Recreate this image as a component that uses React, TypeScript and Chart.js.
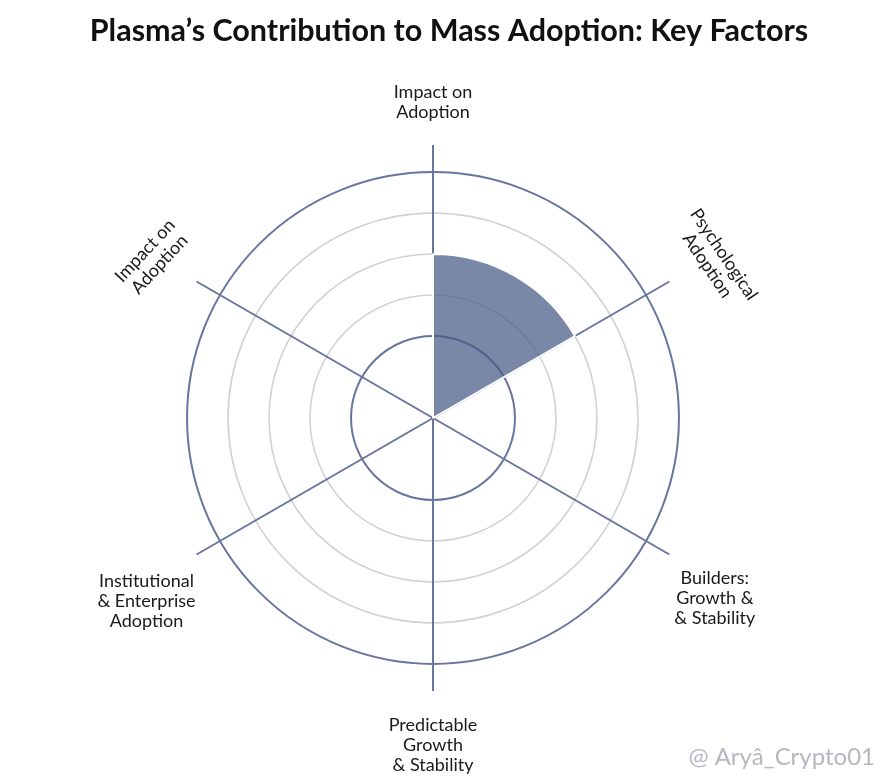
import React, { useEffect, useRef } from "react";
import { Chart, registerables } from "chart.js";

Chart.register(...registerables);

// ---------- data ----------
const TITLE = "Plasma’s Contribution to Mass Adoption: Key Factors";
const WATERMARK = "@ Aryâ_Crypto01";
const categories: string[][] = [
  ["Impact on", "Adoption"],
  ["Psychological", "Adoption"],
  ["Builders:", "Growth &", "& Stability"],
  ["Predictable", "Growth", "& Stability"],
  ["Institutional", "& Enterprise", "Adoption"],
  ["Impact on", "Adoption"],
];
const values = [4, 0, 0, 0, 0, 0];
const tickValues = [2, 3, 4, 5, 6];
const scaleMax = 6.66;

// ---------- styles ----------
const DARK = "#68769E";
const GREY = "#D2D2D4";
const FILL = "rgba(70, 90, 134, 0.72)";
const LABEL_FONT = "18px Lato";
const LABEL_LINE = 20;
// label placement: distance from centre, small nudges, rotation (deg)
const LABEL_LAYOUT = [
  { d: 316, dx: 0, dy: 0, rot: 0 },
  { d: 324, dx: 2, dy: 4, rot: 56 },
  { d: 330, dx: -4, dy: 15, rot: 0 },
  { d: 327, dx: 0, dy: 0, rot: 0 },
  { d: 332, dx: 1, dy: 17, rot: 0 },
  { d: 323, dx: -1, dy: 1, rot: -47 },
];

const labelsPlugin = {
  id: "customLabels",
  afterDraw(chart: any) {
    const ctx = chart.ctx;
    const scale = chart.scales.r;
    ctx.save();
    // title
    ctx.fillStyle = "#111111";
    ctx.font = "bold 30.5px Lato";
    ctx.textAlign = "center";
    ctx.textBaseline = "alphabetic";
    ctx.fillText(TITLE, 449, 41);
    // point labels
    ctx.font = LABEL_FONT;
    ctx.fillStyle = "#1a1a1a";
    ctx.textBaseline = "middle";
    categories.forEach((lines, i) => {
      const lay = LABEL_LAYOUT[i];
      const p = scale.getPointPosition(i, lay.d);
      ctx.save();
      ctx.translate(p.x + lay.dx, p.y + lay.dy);
      ctx.rotate((lay.rot * Math.PI) / 180);
      const n = lines.length;
      lines.forEach((t, k) => {
        ctx.fillText(t, 0, (k - (n - 1) / 2) * LABEL_LINE);
      });
      ctx.restore();
    });
    // watermark
    ctx.font = "24px Lato";
    ctx.fillStyle = "#b4b8c2";
    ctx.textAlign = "right";
    ctx.textBaseline = "alphabetic";
    ctx.fillText(WATERMARK, 875, 765);
    ctx.restore();
  },
};

export default function App() {
  const ref = useRef<HTMLCanvasElement | null>(null);
  useEffect(() => {
    if (!ref.current) return;
    const chart = new Chart(ref.current, {
      type: "polarArea",
      data: {
        labels: categories.map((l) => l.join(" ")),
        datasets: [
          {
            data: values,
            backgroundColor: FILL,
            borderColor: "#ffffff",
            borderWidth: (c: any) => (c.raw > 0 ? 2 : 0),
          },
        ],
      },
      options: {
        responsive: false,
        animation: false,
        layout: { padding: { left: 160, right: 181, top: 145, bottom: 92 } },
        plugins: {
          legend: { display: false },
          title: { display: false },
          tooltip: { enabled: false },
        },
        scales: {
          r: {
            min: 0,
            max: scaleMax,
            startAngle: 0,
            afterBuildTicks: (s: any) => {
              s.ticks = [{ value: 0 }, ...tickValues.map((v) => ({ value: v }))];
            },
            ticks: { display: false },
            grid: {
              circular: true,
              color: (c: any) => {
                const v = c.tick ? c.tick.value : null;
                return v === tickValues[0] || v === tickValues[tickValues.length - 1] ? DARK : GREY;
              },
              lineWidth: (c: any) => {
                const v = c.tick ? c.tick.value : null;
                return v === tickValues[0] || v === tickValues[tickValues.length - 1] ? 2 : 1.6;
              },
            },
            angleLines: { display: true, color: DARK, lineWidth: 2 },
            pointLabels: { display: false },
          },
        },
      },
      plugins: [labelsPlugin],
    } as any);
    return () => chart.destroy();
  }, []);
  return (
    <div style={{ position: "absolute", left: 0, top: 0, width: 887, height: 783, background: "#ffffff" }}>
      <canvas ref={ref} width={887} height={783} style={{ width: 887, height: 783, display: "block" }} />
    </div>
  );
}
